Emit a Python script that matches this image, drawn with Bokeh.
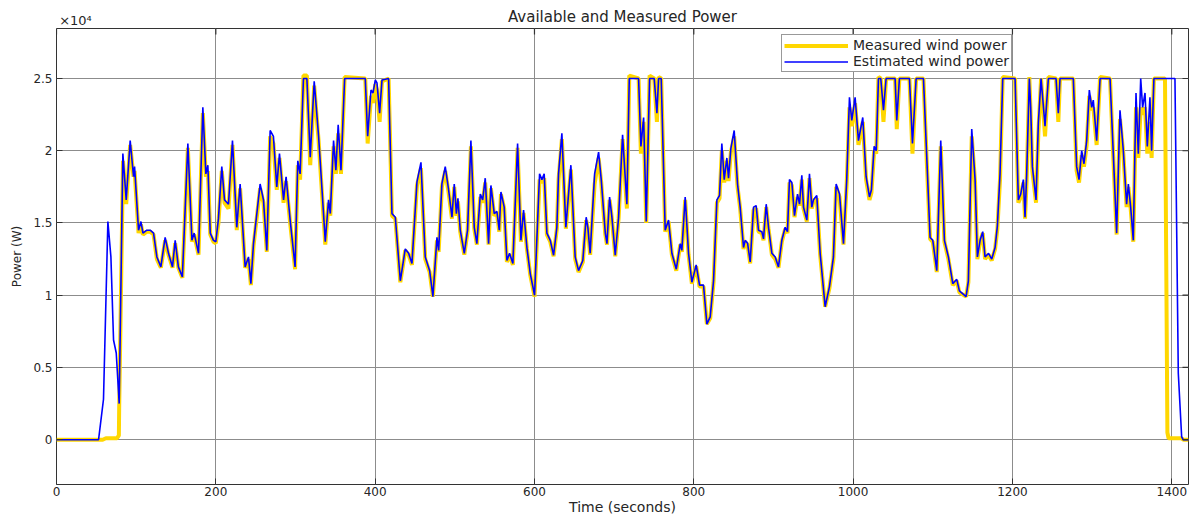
from bokeh.plotting import figure
from bokeh.models import Range1d, FixedTicker, Legend, LegendItem, LinearAxis
from bokeh.embed import file_html
from bokeh.resources import INLINE

# Time (s) and power (x 10^4 W) for the estimated wind power (blue)
t_est = [0, 52.8, 59, 64.5, 68.3, 71.6, 75, 78.7, 83.3, 87.5, 92.5, 96.7, 98, 103, 106, 108.5,
         113.4, 117.6, 121.8, 126, 131, 136.4, 140.6, 145.6, 149, 153, 158, 164.9, 170, 172.8,
         178.3, 183.7, 187.5, 190, 193, 197, 200, 203.3, 207.5, 210.9, 215.9, 220.9, 226.3,
         230.5, 236.8, 241, 244, 247.3, 255.6, 259.8, 264, 268.2, 272.3, 276.5, 279.9, 285,
         288.2, 293.3, 299.5, 302.9, 305.8, 310, 314.3, 318.5, 323.5, 329, 333.3, 337.4, 341.5,
         343.7, 347.8, 350.7, 353.6, 357.1, 361.7, 387.6, 390.6, 394.8, 397.3, 400.2, 402.3,
         405.6, 408.6, 416.9, 421.1, 425.3, 431.6, 437.8, 442, 446.2, 452.5, 457.5, 462.9,
         468.4, 472.5, 477.6, 479.7, 483.8, 488, 492.2, 496.4, 499.3, 502, 503.9, 506.8, 511.9,
         516, 520.2, 524.4, 527.7, 532, 535, 538.2, 542.4, 545.3, 549.5, 552.8, 555.8, 557.9,
         562, 565.4, 568.7, 572.9, 578.8, 583, 586.3, 590.5, 594.7, 600.1, 606.4, 609.3, 612.2,
         615.6, 619.8, 624, 628.1, 630.2, 634.4, 639.4, 645.7, 651.1, 655.3, 660.7, 664.9, 667,
         669.9, 675.5, 680.5, 683.8, 688.9, 691, 694.3, 697.2, 701.4, 705.6, 710.6, 716, 719,
         730.7, 733.6, 737, 740.3, 744.5, 750.3, 753.7, 755.8, 759.1, 764.1, 768.3, 772.5, 778,
         783, 785, 789.2, 793.4, 797.6, 803, 807.2, 812.2, 816.4, 820.6, 824.8, 829, 832.3,
         835.2, 838.2, 841.5, 843.6, 846.5, 850.7, 854.9, 858.2, 862.4, 864.5, 867.5, 870.8,
         875, 878.3, 881.2, 885.4, 887.5, 890.9, 893.8, 898, 902.2, 906.3, 910.5, 914.7, 917.6,
         920.1, 923.1, 926.4, 930.2, 932.7, 935.6, 937.7, 941.9, 945.2, 948.1, 950.2, 954.4,
         958.6, 964.9, 970.3, 975.3, 978.7, 982.9, 987.9, 992, 995.4, 998.3, 1002.5, 1006.7,
         1012.1, 1016.3, 1020.5, 1023, 1026.4, 1029, 1031.8, 1034.7, 1038.1, 1041.4, 1052.7,
         1054.8, 1058.1, 1070.7, 1074.5, 1079.1, 1088.3, 1092.4, 1096.6, 1100, 1105, 1110,
         1114.6, 1119.6, 1125.1, 1130.1, 1133.4, 1141.8, 1144.7, 1148.9, 1153.1, 1156, 1159.4,
         1162.7, 1165.6, 1170, 1174, 1178.2, 1181.1, 1184.4, 1187.8, 1203.3, 1207.4, 1210.4,
         1213.7, 1215.8, 1217.9, 1221.2, 1222.9, 1225, 1229.6, 1232.5, 1235.9, 1240.9, 1245.1,
         1254.7, 1257.6, 1259.7, 1276.4, 1280.6, 1283.6, 1286.9, 1289.8, 1293.2, 1296.5,
         1299.5, 1301.5, 1305.7, 1310, 1322.5, 1326.6, 1330.8, 1335, 1339.2, 1343.3, 1345.5,
         1348.4, 1351.7, 1355.1, 1358, 1361, 1363.4, 1366.4, 1369.3, 1372.6, 1374.7, 1377.6,
         1404, 1408.2, 1412.4, 1414.4, 1421]
p_est = [0, 0, 0.28, 1.51, 1.265, 0.69, 0.60, 0.25, 1.98, 1.66, 2.07, 1.82, 1.89, 1.45, 1.51, 1.43,
         1.45, 1.45, 1.43, 1.265, 1.196, 1.40, 1.29, 1.196, 1.38, 1.196, 1.127, 2.05, 1.38, 1.43,
         1.29, 2.30, 1.84, 1.90, 1.43, 1.38, 1.37, 1.53, 1.89, 1.66, 1.63, 2.07, 1.47,
         1.77, 1.196, 1.265, 1.08, 1.357, 1.77, 1.66, 1.31, 2.14, 2.10, 1.75, 1.98, 1.66,
         1.82, 1.52, 1.196, 1.93, 1.84, 2.5, 2.5, 1.955, 2.48, 2.10, 1.73, 1.37, 1.66,
         1.565, 2.07, 1.865, 2.18, 1.865, 2.5, 2.5, 2.10, 2.42, 2.40, 2.49, 2.47,
         2.26, 2.49, 2.5, 1.565, 1.54, 1.10, 1.32, 1.29, 1.22, 1.785, 1.92, 1.265,
         1.17, 0.99, 1.40, 1.31, 1.77, 1.89, 1.73, 1.54, 1.77, 1.565, 1.67, 1.45, 1.29,
         1.45, 2.07, 1.47, 1.357, 1.70, 1.66, 1.81, 1.357, 1.76, 1.565, 1.58, 1.45, 1.715,
         1.61, 1.24, 1.29, 1.22, 2.05, 1.38, 1.59, 1.33, 1.15, 1.0, 1.84, 1.80, 1.84,
         1.43, 1.38, 1.277, 1.47, 1.84, 2.12, 1.47, 1.90, 1.265, 1.17, 1.24, 1.54, 1.47,
         1.29, 1.84, 1.99, 1.80, 1.43, 1.357, 1.68, 1.54, 1.277, 1.54, 2.11, 1.63, 2.5,
         2.5, 2.03, 2.23, 1.51, 2.5, 2.5, 2.26, 2.5, 2.5, 1.45, 1.52, 1.29, 1.18,
         1.357, 1.31, 1.68, 1.29, 1.09, 1.21, 1.07, 1.07, 0.80, 0.85, 1.10, 1.66, 1.69,
         2.05, 1.80, 1.95, 1.81, 2.015, 2.14, 1.77, 1.61, 1.33, 1.38, 1.36, 1.23,
         1.61, 1.62, 1.45, 1.44, 1.39, 1.63, 1.47, 1.29, 1.265, 1.196, 1.38, 1.47, 1.44,
         1.80, 1.78, 1.55, 1.70, 1.63, 1.83, 1.61, 1.52, 1.84, 1.61, 1.66, 1.69,
         1.29, 0.92, 1.06, 1.265, 1.77, 1.70, 1.357, 1.80, 2.37, 2.21, 2.37, 2.07,
         2.23, 1.82, 1.68, 1.73, 2.03, 2.0, 2.5, 2.5, 2.28, 2.5, 2.5,
         2.21, 2.5, 2.5, 2.05, 2.5, 2.5, 1.96, 1.40, 1.38, 1.17, 2.07,
         1.38, 1.265, 1.08, 1.11, 1.03, 0.99, 1.10, 2.15, 1.80, 1.265, 1.38,
         1.44, 1.265, 1.29, 1.25, 1.33, 1.48, 1.84, 2.5, 2.5, 1.66, 1.70,
         1.80, 1.54, 1.84, 2.5, 2.30, 1.89, 1.66, 2.19, 2.5, 2.17, 2.5,
         2.5, 2.26, 2.5, 2.5, 1.89, 1.80, 2.0, 1.91, 2.07, 2.42,
         2.30, 2.35, 2.07, 2.5, 2.5, 1.98, 1.43, 2.28, 2.0, 1.63, 1.77,
         1.61, 1.38, 2.40, 1.98, 2.5, 2.30, 2.40, 2.03, 2.37, 2.0, 2.5,
         2.5, 0.46, 0.02, 0, 0]

# Time (s) and power (x 10^4 W) for the measured wind power (yellow)
t_meas = [0, 58, 62, 76, 78.3, 78.7, 83.5, 87.5, 92.5, 96.7, 98, 103, 106, 108.5,
          113.4, 117.6, 121.8, 126, 131, 136.4, 140.6, 145.6, 149, 153, 158, 164.9, 170, 172.8,
          178.3, 183.7, 187.5, 190, 193, 197, 200, 203.3, 207.5, 210.9, 215.9, 220.9, 226.3,
          230.5, 236.8, 241, 244, 247.3, 255.6, 259.8, 264, 268.2, 272.3, 276.5, 279.9, 285,
          288.2, 293.3, 299.5, 302.9, 305.8, 310, 314.3, 318.5, 323.5, 329, 333.3, 337.4, 341.5,
          343.7, 347.8, 350.7, 353.6, 357.1, 361.7, 387.6, 390.6, 394.8, 397.3, 400.2, 402.3,
          405.6, 408.6, 416.9, 421.1, 425.3, 431.6, 437.8, 442, 446.2, 452.5, 457.5, 462.9,
          468.4, 472.5, 477.6, 479.7, 483.8, 488, 492.2, 496.4, 499.3, 502, 503.9, 506.8, 511.9,
          516, 520.2, 524.4, 527.7, 532, 535, 538.2, 542.4, 545.3, 549.5, 552.8, 555.8, 557.9,
          562, 565.4, 568.7, 572.9, 578.8, 583, 586.3, 590.5, 594.7, 600.1, 606.4, 609.3, 612.2,
          615.6, 619.8, 624, 628.1, 630.2, 634.4, 639.4, 645.7, 651.1, 655.3, 660.7, 664.9, 667,
          669.9, 675.5, 680.5, 683.8, 688.9, 691, 694.3, 697.2, 701.4, 705.6, 710.6, 716, 719,
          730.7, 733.6, 737, 740.3, 744.5, 750.3, 753.7, 755.8, 759.1, 764.1, 768.3, 772.5, 778,
          783, 785, 789.2, 793.4, 797.6, 803, 807.2, 812.2, 816.4, 820.6, 824.8, 829, 832.3,
          835.2, 838.2, 841.5, 843.6, 846.5, 850.7, 854.9, 858.2, 862.4, 864.5, 867.5, 870.8,
          875, 878.3, 881.2, 885.4, 887.5, 890.9, 893.8, 898, 902.2, 906.3, 910.5, 914.7, 917.6,
          920.1, 923.1, 926.4, 930.2, 932.7, 935.6, 937.7, 941.9, 945.2, 948.1, 950.2, 954.4,
          958.6, 964.9, 970.3, 975.3, 978.7, 982.9, 987.9, 992, 995.4, 998.3, 1002.5, 1006.7,
          1012.1, 1016.3, 1020.5, 1023, 1026.4, 1029, 1031.8, 1034.7, 1038.1, 1041.4, 1052.7,
          1054.8, 1058.1, 1070.7, 1074.5, 1079.1, 1088.3, 1092.4, 1096.6, 1100, 1105, 1110,
          1114.6, 1119.6, 1125.1, 1130.1, 1133.4, 1141.8, 1144.7, 1148.9, 1153.1, 1156, 1159.4,
          1162.7, 1165.6, 1170, 1174, 1178.2, 1181.1, 1184.4, 1187.8, 1203.3, 1207.4, 1210.4,
          1213.7, 1215.8, 1217.9, 1221.2, 1222.9, 1225, 1229.6, 1232.5, 1235.9, 1240.9, 1245.1,
          1254.7, 1257.6, 1259.7, 1276.4, 1280.6, 1283.6, 1286.9, 1289.8, 1293.2, 1296.5,
          1299.5, 1301.5, 1305.7, 1310, 1322.5, 1326.6, 1330.8, 1335, 1339.2, 1343.3, 1345.5,
          1348.4, 1351.7, 1355.1, 1358, 1361, 1363.4, 1366.4, 1369.3, 1372.6, 1374.7, 1377.6,
          1391.5, 1394.5, 1396, 1412, 1415, 1421]
p_meas = [0, 0, 0.01, 0.01, 0.03, 0.23, 1.93, 1.63, 2.04, 1.82, 1.86, 1.43, 1.49, 1.42,
          1.44, 1.44, 1.42, 1.25, 1.19, 1.38, 1.28, 1.19, 1.36, 1.19, 1.12, 2.02, 1.37, 1.42,
          1.28, 2.26, 1.82, 1.86, 1.42, 1.37, 1.36, 1.50, 1.86, 1.64, 1.60, 2.04, 1.45,
          1.74, 1.19, 1.25, 1.07, 1.34, 1.74, 1.64, 1.30, 2.10, 2.05, 1.73, 1.95, 1.64,
          1.79, 1.50, 1.18, 1.90, 1.80, 2.52, 2.52, 1.90, 2.45, 2.07, 1.70, 1.35, 1.64,
          1.55, 2.03, 1.84, 2.12, 1.84, 2.51, 2.5, 2.05, 2.38, 2.33, 2.46, 2.42,
          2.20, 2.48, 2.5, 1.55, 1.53, 1.09, 1.31, 1.28, 1.21, 1.76, 1.88, 1.25,
          1.16, 0.99, 1.38, 1.30, 1.75, 1.86, 1.71, 1.53, 1.75, 1.55, 1.65, 1.44, 1.28,
          1.44, 2.03, 1.46, 1.35, 1.68, 1.64, 1.78, 1.35, 1.74, 1.55, 1.57, 1.44, 1.70,
          1.60, 1.23, 1.28, 1.21, 2.02, 1.37, 1.57, 1.32, 1.14, 0.99, 1.80, 1.78, 1.81,
          1.42, 1.37, 1.27, 1.46, 1.80, 2.08, 1.46, 1.87, 1.25, 1.16, 1.23, 1.52, 1.46,
          1.28, 1.77, 1.95, 1.78, 1.42, 1.35, 1.66, 1.53, 1.27, 1.53, 2.08, 1.60, 2.52,
          2.5, 1.98, 2.20, 1.50, 2.52, 2.5, 2.20, 2.51, 2.5, 1.44, 1.51, 1.28, 1.17,
          1.35, 1.30, 1.66, 1.28, 1.08, 1.20, 1.06, 1.06, 0.80, 0.84, 1.09, 1.64, 1.67,
          2.00, 1.78, 1.93, 1.79, 1.99, 2.10, 1.75, 1.60, 1.32, 1.37, 1.35, 1.22,
          1.59, 1.60, 1.44, 1.43, 1.38, 1.61, 1.46, 1.28, 1.25, 1.19, 1.37, 1.46, 1.43,
          1.78, 1.76, 1.54, 1.68, 1.62, 1.80, 1.60, 1.51, 1.81, 1.60, 1.65, 1.67,
          1.28, 0.92, 1.05, 1.25, 1.75, 1.68, 1.35, 1.78, 2.30, 2.17, 2.33, 2.04,
          2.20, 1.80, 1.66, 1.71, 2.00, 1.98, 2.51, 2.5, 2.20, 2.5, 2.5,
          2.15, 2.5, 2.5, 1.98, 2.5, 2.5, 1.93, 1.39, 1.37, 1.16, 2.03,
          1.37, 1.25, 1.07, 1.10, 1.02, 0.99, 1.09, 2.10, 1.78, 1.25, 1.37,
          1.43, 1.25, 1.28, 1.24, 1.32, 1.46, 1.80, 2.51, 2.5, 1.64, 1.68,
          1.78, 1.53, 1.80, 2.51, 2.25, 1.86, 1.64, 2.12, 2.5, 2.10, 2.51,
          2.5, 2.20, 2.5, 2.5, 1.86, 1.78, 1.97, 1.89, 2.04, 2.38,
          2.28, 2.30, 2.04, 2.51, 2.5, 1.95, 1.42, 2.22, 1.98, 1.61, 1.75,
          1.60, 1.37, 2.30, 1.95, 2.30, 2.25, 2.30, 1.98, 2.20, 1.95, 2.5,
          2.5, 0.05, 0.01, 0.01, 0, 0]

x_ticks = [0, 200, 400, 600, 800, 1000, 1200, 1400]
y_ticks = [0, 0.5, 1, 1.5, 2, 2.5]
y_tick_labels = ["0", "0.5", "1", "1.5", "2", "2.5"]
title_text = "Available and Measured Power"
multiplier_text = "×10⁴"

X_MIN, X_MAX = 0, 1421
Y_MIN, Y_MAX = -0.31, 2.846

FONT = "DejaVu Sans"
TXT = "#262626"
W, H = 1192, 517
BL, BR, BT, BB = 56, 4, 28, 33
frame_w = W - BL - BR
frame_h = H - BT - BB

p = figure(width=W, height=H, output_backend="svg", toolbar_location=None,
           x_range=Range1d(X_MIN, X_MAX), y_range=Range1d(Y_MIN, Y_MAX),
           min_border_left=BL, min_border_right=BR, min_border_top=BT, min_border_bottom=BB)
p.background_fill_color = "white"
p.border_fill_color = "white"
p.outline_line_color = "#333333"
p.outline_line_width = 1
p.title.text = ""

for ax in [p.xaxis[0], p.yaxis[0]]:
    ax.major_tick_in = 6
    ax.major_tick_out = 0
    ax.minor_tick_line_color = None
    ax.axis_line_color = None
    ax.major_tick_line_color = "#333333"
    ax.major_label_text_font = FONT
    ax.major_label_text_font_size = "12px"
    ax.major_label_text_color = TXT
    ax.axis_label_text_font = FONT
    ax.axis_label_text_font_style = "normal"
    ax.axis_label_text_color = TXT

p.xaxis[0].ticker = FixedTicker(ticks=x_ticks)
p.xaxis[0].major_label_standoff = 2
p.xaxis[0].axis_label = "Time (seconds)"
p.xaxis[0].axis_label_text_font_size = "14px"
p.xaxis[0].axis_label_standoff = 0

p.yaxis[0].ticker = FixedTicker(ticks=y_ticks)
p.yaxis[0].major_label_overrides = {v: s for v, s in zip(y_ticks, y_tick_labels)}
p.yaxis[0].major_label_standoff = 4
p.yaxis[0].axis_label = "Power (W)"
p.yaxis[0].axis_label_text_font_size = "12px"
p.yaxis[0].axis_label_standoff = 6

# top axis carries the title (as its label) and the x10^4 multiplier (as a tick label)
mult_x = X_MIN + 19 * (X_MAX - X_MIN) / frame_w
top_ax = LinearAxis(ticker=FixedTicker(ticks=[mult_x]),
                    major_label_overrides={mult_x: multiplier_text},
                    major_label_text_font=FONT, major_label_text_font_size="13px",
                    major_label_text_color=TXT, major_label_standoff=1,
                    major_tick_in=0, major_tick_out=0, major_tick_line_color=None,
                    minor_tick_line_color=None, axis_line_color=None,
                    axis_label=title_text, axis_label_text_font=FONT,
                    axis_label_text_font_size="15px", axis_label_text_font_style="normal",
                    axis_label_text_color=TXT, axis_label_standoff=-16)
p.add_layout(top_ax, "above")

p.xgrid.ticker = FixedTicker(ticks=x_ticks)
p.ygrid.ticker = FixedTicker(ticks=y_ticks)
p.grid.grid_line_color = "#8c8c8c"
p.grid.grid_line_width = 1

r_meas = p.line(t_meas, p_meas, line_color="#FFD700", line_width=4)
r_est = p.line(t_est, p_est, line_color="#0000FF", line_width=1.6)

# inward ticks on the top and right frame edges (6 px long)
tick_dy = 6 * (Y_MAX - Y_MIN) / frame_h
tick_dx = 6 * (X_MAX - X_MIN) / frame_w
p.segment(x0=x_ticks, x1=x_ticks, y0=[Y_MAX] * len(x_ticks), y1=[Y_MAX - tick_dy] * len(x_ticks),
          line_color="#333333", line_width=1.2)
p.segment(x0=[X_MAX] * len(y_ticks), x1=[X_MAX - tick_dx] * len(y_ticks), y0=y_ticks, y1=y_ticks,
          line_color="#333333", line_width=1.2)

legend = Legend(items=[LegendItem(label="Measured wind power", renderers=[r_meas]),
                       LegendItem(label="Estimated wind power", renderers=[r_est])],
                location=(725, 412), orientation="vertical",
                glyph_width=64, glyph_height=13, label_height=13, label_standoff=5,
                padding=2, spacing=0, margin=0,
                label_text_font=FONT, label_text_font_size="14px", label_text_color=TXT,
                border_line_color="#333333", border_line_width=1,
                background_fill_color="white", background_fill_alpha=1)
p.add_layout(legend, "center")

open("out.html", "w").write(file_html(p, INLINE))
